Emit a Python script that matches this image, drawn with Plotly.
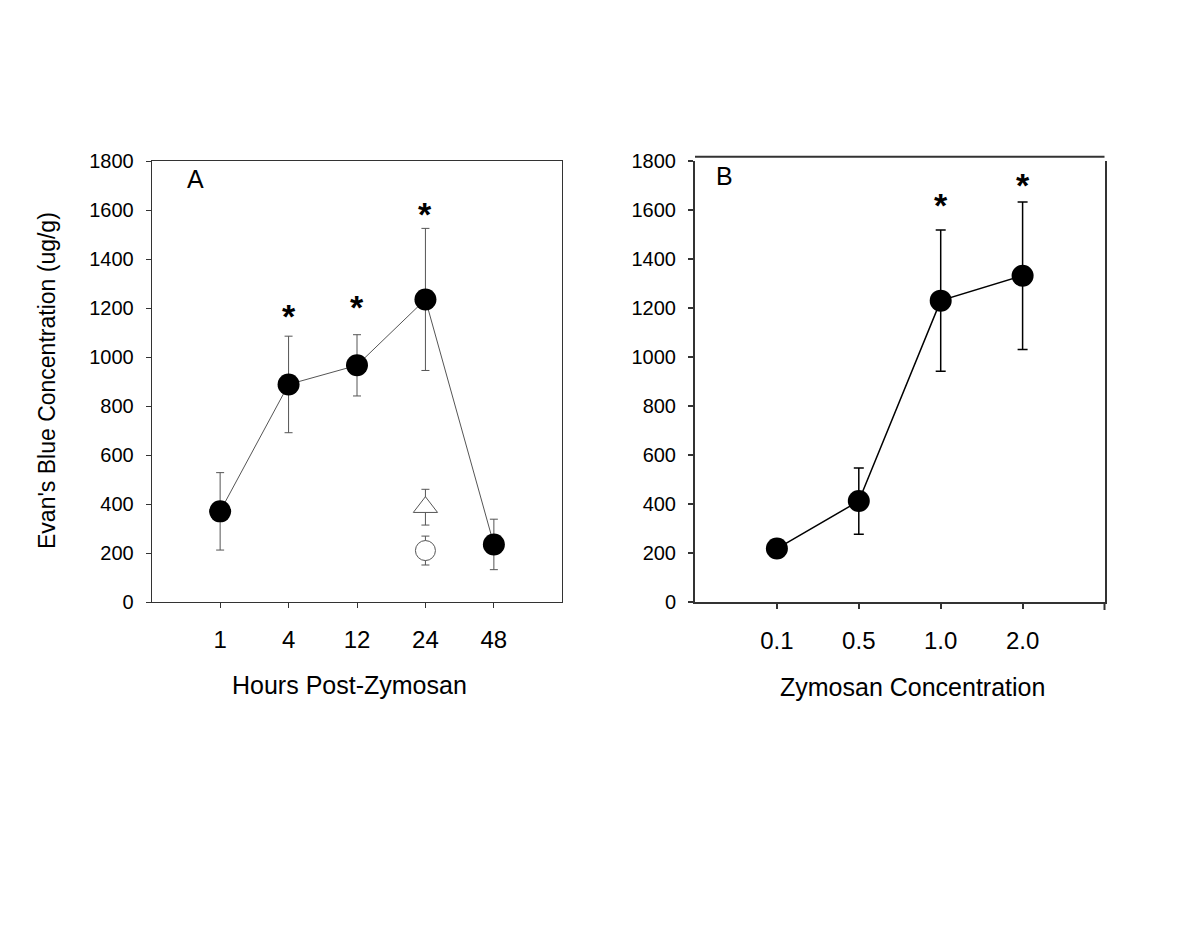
import plotly.graph_objects as go

# ---- Data ----
hours_labels = ["1", "4", "12", "24", "48"]
hours_pos = [1, 2, 3, 4, 5]
hours_mean = [370, 888, 966, 1235, 235]
hours_err = [158, 197, 125, 290, 103]

ctrl_tri_pos = [4]
ctrl_tri_mean = [387]
ctrl_tri_err = [73]
ctrl_circ_pos = [4]
ctrl_circ_mean = [210]
ctrl_circ_err = [59]

hours_sig_pos = [2, 3, 4]
hours_sig_y = [1180, 1216, 1596]

conc_labels = ["0.1", "0.5", "1.0", "2.0"]
conc_pos = [1, 2, 3, 4]
conc_mean = [218, 412, 1230, 1332]
conc_err = [0, 135, 288, 301]

conc_sig_pos = [3, 4]
conc_sig_y = [1634, 1713]

y_ticks = [0, 200, 400, 600, 800, 1000, 1200, 1400, 1600, 1800]

# page body has an 8px margin; figure fills the rest of the 1200x927 window
OFF = 8
W, H = 1200 - 2 * OFF, 927 - 2 * OFF
FONT = "Liberation Sans, Arial, sans-serif"


def px_x(p):
    return (p - OFF) / W


def px_y(p):
    return 1 - (p - OFF) / H


fig = go.Figure()

# Panel A
fig.add_trace(go.Scatter(
    x=hours_pos, y=hours_mean, mode="lines+markers",
    line=dict(color="#555555", width=1),
    marker=dict(size=22, color="black", line=dict(width=0)),
    error_y=dict(type="data", array=hours_err, color="#555555", thickness=1, width=4),
    xaxis="x", yaxis="y", showlegend=False,
))
fig.add_trace(go.Scatter(
    x=ctrl_tri_pos, y=ctrl_tri_mean, mode="markers",
    marker=dict(symbol="triangle-up", size=21, color="white", line=dict(color="#555555", width=1)),
    error_y=dict(type="data", array=ctrl_tri_err, color="#555555", thickness=1, width=4),
    xaxis="x", yaxis="y", showlegend=False,
))
fig.add_trace(go.Scatter(
    x=ctrl_circ_pos, y=ctrl_circ_mean, mode="markers",
    marker=dict(symbol="circle", size=20, color="white", line=dict(color="#555555", width=1)),
    error_y=dict(type="data", array=ctrl_circ_err, color="#555555", thickness=1, width=4),
    xaxis="x", yaxis="y", showlegend=False,
))

# Panel B
fig.add_trace(go.Scatter(
    x=conc_pos, y=conc_mean, mode="lines+markers",
    line=dict(color="black", width=1.5),
    marker=dict(size=22, color="black", line=dict(width=0)),
    error_y=dict(type="data", array=conc_err, color="black", thickness=1.5, width=5),
    xaxis="x2", yaxis="y2", showlegend=False,
))

annotations = []
for xp, yp in zip(hours_sig_pos, hours_sig_y):
    annotations.append(dict(x=xp, y=yp, xref="x", yref="y", text="<b>*</b>",
                            showarrow=False, font=dict(size=34, family=FONT, color="black"),
                            yanchor="middle", yshift=-3))
for xp, yp in zip(conc_sig_pos, conc_sig_y):
    annotations.append(dict(x=xp, y=yp, xref="x2", yref="y2", text="<b>*</b>",
                            showarrow=False, font=dict(size=34, family=FONT, color="black"),
                            yanchor="middle", yshift=-3))

annotations += [
    dict(x=px_x(195), y=px_y(179), xref="paper", yref="paper", text="A", showarrow=False,
         font=dict(size=25, family=FONT, color="black"), xanchor="center", yanchor="middle"),
    dict(x=px_x(724), y=px_y(176), xref="paper", yref="paper", text="B", showarrow=False,
         font=dict(size=25, family=FONT, color="black"), xanchor="center", yanchor="middle"),
    dict(x=px_x(349), y=px_y(685), xref="paper", yref="paper", text="Hours Post-Zymosan",
         showarrow=False, font=dict(size=25, family=FONT, color="black"),
         xanchor="center", yanchor="middle"),
    dict(x=px_x(912), y=px_y(687), xref="paper", yref="paper", text="Zymosan Concentration",
         showarrow=False, font=dict(size=25, family=FONT, color="black"),
         xanchor="center", yanchor="middle"),
    dict(x=px_x(47), y=px_y(381), xref="paper", yref="paper",
         text="Evan's Blue Concentration (ug/g)", textangle=-90,
         showarrow=False, font=dict(size=23, family=FONT, color="black"),
         xanchor="center", yanchor="middle"),
]

axis_common = dict(showgrid=False, zeroline=False, ticks="outside", ticklen=5, automargin=False)

fig.update_layout(
    width=W, height=H,
    margin=dict(l=0, r=0, t=0, b=0, autoexpand=False),
    paper_bgcolor="white", plot_bgcolor="white",
    font=dict(family=FONT, color="black"),
    xaxis=dict(domain=[px_x(151.7), px_x(562.3)], range=[0, 6], anchor="y",
               tickvals=hours_pos, ticktext=hours_labels,
               showline=True, mirror=True, linecolor="#333333", linewidth=1,
               tickcolor="#333333", tickwidth=1,
               tickfont=dict(size=24, family=FONT), ticklabelstandoff=11, **axis_common),
    yaxis=dict(domain=[px_y(602), px_y(161)], range=[0, 1800], anchor="x",
               tickvals=y_ticks,
               showline=True, mirror=True, linecolor="#333333", linewidth=1,
               tickcolor="#333333", tickwidth=1,
               tickfont=dict(size=20, family=FONT), ticklabelstandoff=8, **axis_common),
    xaxis2=dict(domain=[px_x(695), px_x(1104.5)], range=[0, 5], anchor="y2",
                tickvals=conc_pos, ticktext=conc_labels,
                showline=True, mirror=False, linecolor="#333333", linewidth=2,
                tickcolor="#333333", tickwidth=1.5,
                tickfont=dict(size=24, family=FONT), ticklabelstandoff=11, **axis_common),
    yaxis2=dict(domain=[px_y(602), px_y(161)], range=[0, 1800], anchor="x2",
                tickvals=y_ticks,
                showline=True, mirror=True, linecolor="#333333", linewidth=2,
                tickcolor="#333333", tickwidth=1.5,
                tickfont=dict(size=20, family=FONT), ticklabelstandoff=8, **axis_common),
    annotations=annotations,
    shapes=[
        dict(type="line", xref="paper", yref="paper",
             x0=px_x(695), x1=px_x(1104.5), y0=px_y(156.7), y1=px_y(156.7),
             line=dict(color="#333333", width=2)),
        dict(type="line", xref="paper", yref="paper",
             x0=px_x(1104.5), x1=px_x(1104.5), y0=px_y(602), y1=px_y(610),
             line=dict(color="#333333", width=2)),
    ],
)

fig.write_html("out.html")
